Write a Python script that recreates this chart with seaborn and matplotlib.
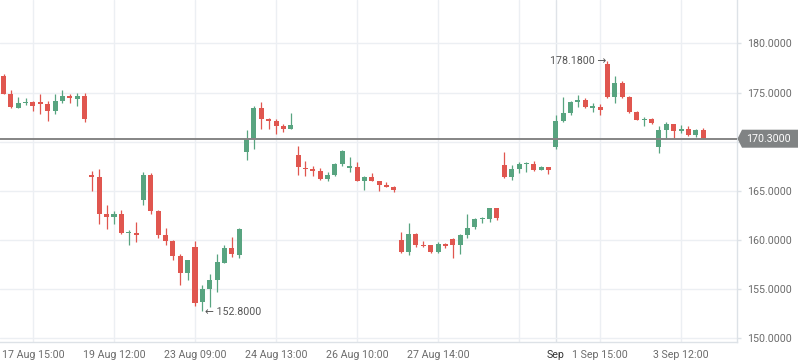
import matplotlib

matplotlib.use("Agg")

import matplotlib.pyplot as plt
import numpy as np
import pandas as pd
import seaborn as sns
from matplotlib.patches import Polygon

# OHLC values, one candle per trading slot
opens = [176.71, 174.88, 173.46, 173.94, 174.04, 174.04, 173.87, 173.12, 174.14, 174.65,
         174.37, 174.65, 166.61, 166.41, 162.64, 162.37, 162.64, 160.66, 160.71, 164.10,
         166.61, 162.95, 160.51, 159.90, 158.37, 156.67, 159.29, 153.72, 155.05, 155.96,
         157.69, 159.19, 158.47, 168.98, 170.27, 173.43, 172.31, 172.11, 171.57, 171.32,
         168.65, 167.36, 167.25, 167.02, 166.24, 166.64, 167.76, 167.36, 167.43, 166.03,
         166.38, 166.00, 165.60, 165.39, 160.00, 158.81, 160.58, 159.49, 159.46, 158.81,
         159.59, 160.07, 159.49, 160.51, 161.35, 162.11, 162.14, 163.26, 167.63, 166.44,
         167.25, 167.68, 167.73, 167.15, 167.43, 169.49, 172.14, 172.95, 174.04, 174.24,
         173.46, 173.50, 177.93, 174.55, 176.00, 174.58, 173.02, 172.21, 172.31, 169.49,
         171.19, 171.80, 171.09, 171.29, 170.71, 171.19]
highs = [176.89, 175.26, 174.55, 174.45, 174.14, 174.88, 174.11, 174.88, 175.26, 174.85,
         174.95, 174.95, 167.02, 167.22, 163.56, 162.95, 163.05, 161.02, 161.83, 166.92,
         166.79, 163.05, 161.22, 160.00, 158.58, 157.97, 159.90, 155.39, 156.54, 158.58,
         159.49, 160.31, 161.22, 171.19, 173.63, 174.01, 172.44, 172.31, 171.80, 172.92,
         169.56, 168.07, 167.50, 167.29, 166.92, 167.86, 169.16, 168.44, 167.94, 166.51,
         166.82, 166.00, 165.87, 165.46, 160.81, 161.73, 160.71, 159.90, 159.46, 159.77,
         159.69, 160.20, 160.61, 162.64, 162.27, 162.34, 163.26, 163.26, 168.95, 167.63,
         167.94, 167.94, 168.04, 167.53, 167.43, 172.72, 174.55, 174.11, 174.75, 174.41,
         173.94, 173.80, 178.18, 176.68, 176.17, 174.68, 173.12, 172.54, 172.44, 171.60,
         172.00, 171.80, 171.67, 171.57, 171.29, 171.39]
lows = [174.88, 173.46, 173.46, 173.76, 173.15, 172.85, 172.11, 172.82, 173.97, 173.97,
        173.66, 172.04, 165.02, 161.66, 161.15, 161.66, 160.61, 159.52, 159.83, 163.56,
        162.64, 160.23, 159.49, 157.97, 155.45, 155.96, 153.32, 152.80, 153.21, 154.74,
        157.69, 158.30, 158.17, 168.14, 169.26, 171.32, 171.32, 170.81, 171.02, 171.32,
        166.64, 166.51, 166.54, 166.10, 166.03, 166.51, 167.56, 166.89, 166.03, 165.09,
        166.03, 165.02, 165.36, 164.85, 158.71, 158.50, 159.26, 159.26, 158.71, 158.71,
        159.22, 158.20, 158.61, 160.23, 161.15, 161.70, 161.86, 162.03, 166.28, 166.13,
        166.79, 166.89, 167.05, 167.15, 166.74, 169.26, 172.04, 172.69, 173.50, 173.43,
        173.02, 172.75, 174.45, 173.97, 174.45, 172.89, 172.24, 171.63, 171.80, 168.88,
        170.27, 170.27, 170.92, 170.55, 170.51, 170.30]
closes = [174.88, 173.56, 173.94, 174.01, 173.66, 173.87, 173.12, 174.11, 174.65, 174.48,
          174.65, 172.34, 166.44, 162.68, 162.37, 162.64, 160.71, 160.74, 160.54, 166.61,
          162.98, 160.54, 159.93, 158.40, 156.67, 157.97, 153.62, 155.02, 155.93, 157.76,
          159.19, 158.61, 161.09, 170.27, 173.43, 172.34, 172.11, 171.63, 171.32, 171.73,
          167.46, 167.22, 167.02, 166.24, 166.61, 167.73, 169.05, 167.46, 166.03, 166.38,
          166.03, 165.63, 165.42, 165.12, 158.81, 160.58, 159.52, 159.39, 158.81, 159.56,
          159.39, 159.49, 160.48, 161.22, 162.14, 162.17, 163.26, 162.27, 166.44, 167.22,
          167.73, 167.73, 167.15, 167.43, 167.12, 172.11, 172.92, 174.04, 174.24, 173.56,
          173.50, 173.22, 174.52, 175.97, 174.52, 172.99, 172.24, 172.24, 171.93, 171.16,
          171.80, 171.12, 171.29, 170.71, 171.19, 170.30]

tick_pos = [4, 15, 26, 37, 48, 59, 70, 75, 81, 92]
tick_labels = ["17 Aug 15:00", "19 Aug 12:00", "23 Aug 09:00", "24 Aug 13:00",
               "26 Aug 10:00", "27 Aug 14:00", "", "Sep", "1 Sep 15:00", "3 Sep 12:00"]
y_ticks = [150, 155, 160, 165, 170, 175, 180]
last_price = 170.30
max_high, min_low = 178.18, 152.80

UP = "#58a480"
DOWN = "#e0564f"
GRID = "#eceff3"
FS = 7.7

sns.set_theme(style="whitegrid")
plt.rcParams["font.family"] = ["Roboto", "DejaVu Sans"]

df = pd.DataFrame({"open": opens, "high": highs, "low": lows, "close": closes})
df["x"] = np.arange(len(df))
df["up"] = df["close"] >= df["open"]
df["color"] = np.where(df["up"], UP, DOWN)
df["bottom"] = df[["open", "close"]].min(axis=1)
df["height"] = (df["close"] - df["open"]).abs().clip(lower=0.13)

fig = plt.figure(figsize=(7.98, 3.63), dpi=100)
ax = fig.add_axes([0.0, 0.0587, 737 / 798, 0.9413])

ax.vlines(df["x"], df["low"], df["high"], colors=df["color"], lw=0.9, zorder=3)
ax.bar(df["x"], df["height"], bottom=df["bottom"], width=0.68, color=df["color"],
       linewidth=0, zorder=4)

ax.axhline(last_price, color="#858585", lw=1.4, zorder=5)

ax.set_xlim(-0.48, 99.6)
ax.set_ylim(149.65, 184.41)
ax.set_xticks(tick_pos)
ax.set_xticklabels(tick_labels)
ax.set_yticks(y_ticks)
ax.set_yticklabels(["" if v == 170 else f"{v:.4f}" for v in y_ticks])
ax.yaxis.tick_right()

ax.grid(True, color=GRID, lw=1)
for side in ["left", "top"]:
    ax.spines[side].set_visible(False)
for side in ["right", "bottom"]:
    ax.spines[side].set_color("#dde2e7")
    ax.spines[side].set_linewidth(1)
ax.tick_params(axis="y", colors="#dde2e7", labelcolor="#6b6b6b", labelsize=FS,
               length=3, width=1, pad=4)
ax.tick_params(axis="x", labelcolor="#6b6b6b", labelsize=FS, length=0, pad=6)
for lbl in ax.get_xticklabels():
    if lbl.get_text() == "Sep":
        lbl.set_color("#333333")
ax.xaxis.get_gridlines()[7].set_color("#dfe3e8")

ax.annotate(f"{max_high:.4f} →", xy=(df["high"].idxmax(), max_high), xytext=(-1, 0),
            textcoords="offset points", ha="right", va="center", fontsize=FS,
            color="#555555")
ax.annotate(f"← {min_low:.4f}", xy=(df["low"].idxmin(), min_low), xytext=(2, -1),
            textcoords="offset points", ha="left", va="center", fontsize=FS,
            color="#555555")

# last-price tag on the right axis
yfig = ax.transData.transform((0, last_price))[1]
h = 9
pts = [(737.5, yfig), (742, yfig + h), (798, yfig + h), (798, yfig - h), (742, yfig - h)]
fig.patches.append(Polygon(pts, closed=True, transform=None, facecolor="#808384",
                           edgecolor="none", zorder=10))
fig.text(768 / 798, yfig / 363, f"{last_price:.4f}", ha="center", va="center",
         fontsize=FS, color="white", zorder=11)

fig.savefig("out.png", dpi=100, facecolor="white")
